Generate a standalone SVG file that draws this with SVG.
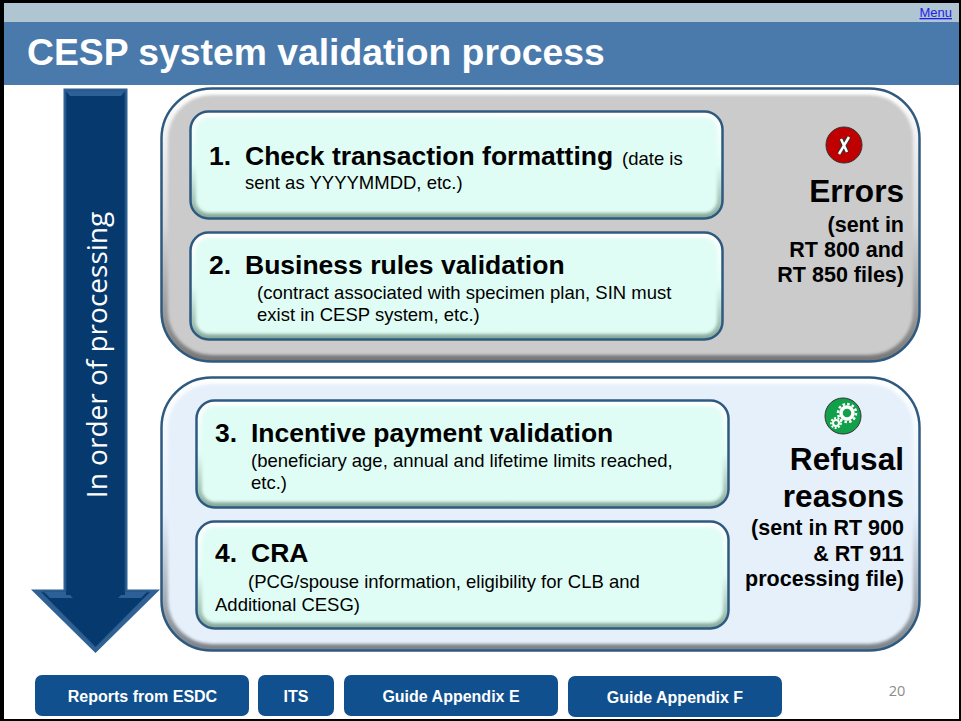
<svg xmlns="http://www.w3.org/2000/svg" width="961" height="721" viewBox="0 0 961 721">
<style>
text{font-family:"Liberation Sans",Arial,sans-serif;fill:#000}
.b{font-weight:bold}
.h{font-size:26.5px;font-weight:bold}
.s{font-size:18.500px}
.btn{font-size:16px;font-weight:bold;fill:#fff;text-anchor:middle}
.r{text-anchor:end;font-weight:bold}
.big{font-size:31.600px}
.sub{font-size:21.500px}
.edge{stroke:#2f5a80;stroke-width:2.500}
.btnr{fill:#11508e}
</style>
<defs>
<filter id="bl" x="-5%" y="-5%" width="110%" height="110%"><feGaussianBlur stdDeviation="1.600"/></filter>
<linearGradient id="gp" x1="0" y1="0" x2="0" y2="1"><stop offset="0" stop-color="#fff"/><stop offset=".5" stop-color="#d8d8d8"/><stop offset="1" stop-color="#777"/></linearGradient>
<linearGradient id="gb" x1="0" y1="0" x2="0" y2="1"><stop offset="0" stop-color="#fff"/><stop offset=".5" stop-color="#e6f0fb"/><stop offset="1" stop-color="#7c8288"/></linearGradient>
<linearGradient id="gm" x1="0" y1="0" x2="0" y2="1"><stop offset="0" stop-color="#fff"/><stop offset=".5" stop-color="#e0fdf5"/><stop offset="1" stop-color="#86a898"/></linearGradient>
</defs>
<rect x="0" y="0" width="961" height="721" fill="#fff"/>
<rect x="4" y="3" width="955" height="19" fill="#afc5d2"/>
<rect x="4" y="22" width="955" height="63" fill="#4a7aab"/>
<path d="M0 0H961V721H0ZM4 3V719H959V3Z" fill="#000" fill-rule="evenodd"/>
<text x="27" y="65" style="font-size:37.300px;font-weight:bold;fill:#fff">CESP system validation process</text>
<text x="952" y="17" text-anchor="end" text-decoration="underline" style="font-size:13px;fill:#1f1fe8">Menu</text>

<g id="arrow">
<path d="M63.500 88.500H127.500V589.500H160L95.500 653L31 589.500H63.500Z" fill="#2f6194"/>
<path d="M66 91H125V592H150L95.500 647L41 592H66Z" fill="#063a6e" stroke="#1d4f7f" stroke-width="1"/>
<path d="M66 91H125L121 96H70Z" fill="#2c6096"/>
<path d="M44 592H66V595H70L73 598H50Z M125 592H147L141 598H118L121 595H125Z" fill="#2c6096"/>
<text transform="translate(106.500 355) rotate(-90)" text-anchor="middle" style="font-family:'Open Sans',sans-serif;font-size:28px;fill:#fff">In order of processing</text>
</g>

<g id="panel-errors">
<rect x="161.500" y="88.500" width="758" height="273" rx="50" class="edge" fill="url(#gp)"/>
<rect x="168" y="95" width="745" height="260" rx="44" fill="#cbcbcb" filter="url(#bl)"/>
<circle cx="844" cy="145" r="18" fill="#c00000" stroke="#333" stroke-width="1"/>
<path d="M849 137 L839 154 M841 139 L847 152" stroke="#333" stroke-width="4.500" fill="none"/>
<path d="M849 137 L839 154 M841 139 L847 152" stroke="#fff" stroke-width="2.500" fill="none"/>
<text x="904" y="202" class="r big">Errors</text>
<text x="904" y="232" class="r sub">(sent in</text>
<text x="904" y="257" class="r sub">RT 800 and</text>
<text x="904" y="282" class="r sub">RT 850 files)</text>
</g>

<g id="panel-refusal">
<rect x="161.500" y="377.500" width="758" height="273" rx="50" class="edge" fill="url(#gb)"/>
<rect x="168" y="384" width="745" height="260" rx="44" fill="#e6f0fb" filter="url(#bl)"/>
<circle cx="843" cy="416" r="18" fill="#12a14a" stroke="#333" stroke-width="1"/>
<circle cx="847" cy="413" r="6" fill="none" stroke="#fff" stroke-width="3.500"/>
<circle cx="847" cy="413" r="9" fill="none" stroke="#fff" stroke-width="2.500" stroke-dasharray="2.500 2.200"/>
<circle cx="836" cy="423" r="3" fill="none" stroke="#fff" stroke-width="2"/>
<circle cx="836" cy="423" r="5" fill="none" stroke="#fff" stroke-width="1.800" stroke-dasharray="2 1.500"/>
<text x="904" y="470" class="r big">Refusal</text>
<text x="904" y="507" class="r big">reasons</text>
<text x="904" y="535" class="r sub">(sent in RT 900</text>
<text x="904" y="561" class="r sub">&amp; RT 911</text>
<text x="904" y="586" class="r sub">processing file)</text>
</g>

<g id="step-1">
<rect x="190.500" y="111.500" width="532" height="107" rx="18" class="edge" fill="url(#gm)"/>
<rect x="196" y="117" width="521" height="96" rx="13" fill="#e0fdf5" filter="url(#bl)"/>
<text x="209" y="165" class="h">1.</text>
<text x="245" y="165" class="h">Check transaction formatting</text>
<text x="622" y="165" class="s">(date is</text>
<text x="245" y="189" class="s">sent as YYYYMMDD, etc.)</text>
</g>
<g id="step-2">
<rect x="190.500" y="232.500" width="532" height="107" rx="18" class="edge" fill="url(#gm)"/>
<rect x="196" y="238" width="521" height="96" rx="13" fill="#e0fdf5" filter="url(#bl)"/>
<text x="209" y="274" class="h">2.</text>
<text x="245" y="274" class="h">Business rules validation</text>
<text x="257" y="299" class="s">(contract associated with specimen plan, SIN must</text>
<text x="257" y="321" class="s">exist in CESP system, etc.)</text>
</g>
<g id="step-3">
<rect x="196.500" y="400.500" width="532" height="107" rx="18" class="edge" fill="url(#gm)"/>
<rect x="202" y="406" width="521" height="96" rx="13" fill="#e0fdf5" filter="url(#bl)"/>
<text x="215" y="442" class="h">3.</text>
<text x="251" y="442" class="h">Incentive payment validation</text>
<text x="251" y="467" class="s">(beneficiary age, annual and lifetime limits reached,</text>
<text x="251" y="489" class="s">etc.)</text>
</g>
<g id="step-4">
<rect x="196.500" y="521.500" width="532" height="107" rx="18" class="edge" fill="url(#gm)"/>
<rect x="202" y="527" width="521" height="96" rx="13" fill="#e0fdf5" filter="url(#bl)"/>
<text x="215" y="562" class="h">4.</text>
<text x="251" y="562" class="h">CRA</text>
<text x="248" y="588" class="s">(PCG/spouse information, eligibility for CLB and</text>
<text x="215" y="611" class="s">Additional CESG)</text>
</g>

<g id="btn-reports"><rect class="btnr" x="35" y="675" width="214" height="41" rx="7"/><text class="btn" x="142.500" y="702">Reports from ESDC</text></g>
<g id="btn-its"><rect class="btnr" x="258" y="675" width="76" height="41" rx="7"/><text class="btn" x="296" y="702">ITS</text></g>
<g id="btn-e"><rect class="btnr" x="344" y="675" width="214" height="41" rx="7"/><text class="btn" x="451" y="702">Guide Appendix E</text></g>
<g id="btn-f"><rect class="btnr" x="568" y="676" width="214" height="41" rx="7"/><text class="btn" x="675" y="703">Guide Appendix F</text></g>
<text x="897" y="696" text-anchor="middle" style="font-family:'Open Sans',sans-serif;font-size:14.500px;fill:#8b8b8b">20</text>
<g id="connectors"/>
</svg>
